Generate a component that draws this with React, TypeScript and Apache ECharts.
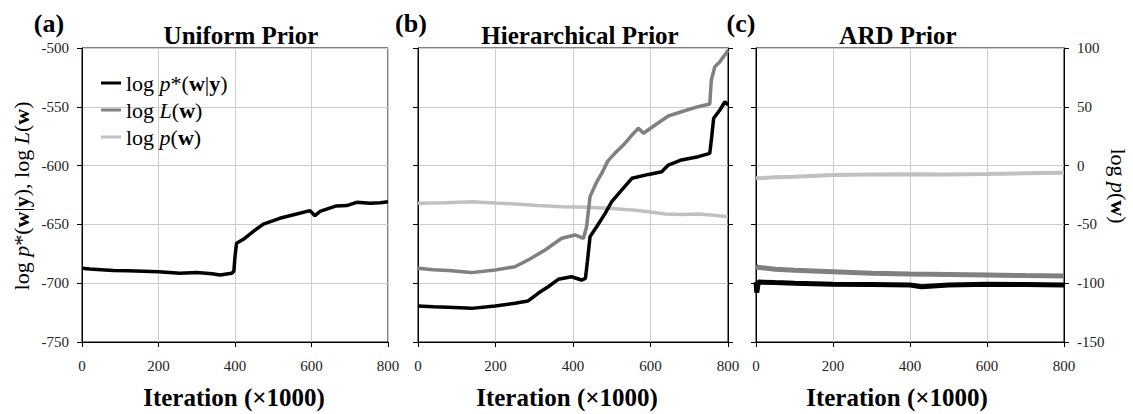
import React, { useEffect, useRef } from "react";
import * as echarts from "echarts";

const SERIF = "Liberation Serif";

// Panel titles and labels
const panelLetters = ["(a)", "(b)", "(c)"];
const panelTitles = ["Uniform Prior", "Hierarchical Prior", "ARD Prior"];
const xAxisTitle = "Iteration (×1000)";
const seriesNames = ["log p*(w|y)", "log L(w)", "log p(w)"];

// Axis ranges / ticks
const xTicks = [0, 200, 400, 600, 800];
const leftTicks = [-750, -700, -650, -600, -550, -500];
const rightTicks = [-150, -100, -50, 0, 50, 100];

// Panel (a): Uniform prior
const iterA = [0, 20, 50, 82, 120, 160, 200, 256, 300, 340, 361, 391, 397, 400, 404, 422, 448, 474, 517, 561, 596, 609, 622, 665, 692, 718, 753, 780, 800];
const postA = [-687.3, -688, -688.5, -689.3, -689.5, -689.8, -690.2, -691.6, -691, -692, -693, -691.6, -690, -677.4, -666, -662.7, -656, -649.7, -644.8, -641.2, -638.3, -642.6, -639, -634.3, -634, -631.2, -632, -631.5, -630.7];

// Panel (b): Hierarchical prior
const iterPostB = [0, 40, 78, 138, 199, 250, 284, 310, 336, 362, 396, 422, 432, 437, 444, 461, 483, 500, 526, 552, 595, 629, 646, 680, 723, 753, 757, 763, 779, 792, 800];
const postB = [-719.4, -720, -720.5, -721.4, -719.4, -717.1, -715.1, -708.6, -703, -696.7, -694.5, -697.3, -696, -682, -660.4, -652, -640.6, -630.7, -620.7, -610.8, -607.5, -605.2, -599.5, -595.2, -592.4, -589.6, -578.2, -559.8, -552.7, -545.7, -548.5];
const iterLikB = [0, 40, 78, 138, 199, 250, 284, 328, 371, 405, 427, 435, 444, 461, 475, 490, 508, 530, 552, 569, 582, 612, 646, 680, 723, 753, 757, 766, 779, 796, 800];
const likB = [-687.3, -688.5, -689.3, -691, -688.8, -686, -680.3, -671.8, -661.8, -659, -661.8, -652, -626.4, -614, -606, -596, -589.6, -582.5, -574, -568.3, -572.5, -565.5, -557.8, -554.2, -549.9, -547.6, -527.2, -515.9, -511.6, -504, -502];
const iterPriorB = [0, 70, 138, 200, 250, 310, 371, 440, 500, 560, 595, 638, 680, 724, 770, 800];
const priorB = [-32.1, -31.5, -30.7, -31.8, -32.6, -34, -34.9, -35.5, -36.5, -38, -39.2, -41.2, -41.5, -41.2, -42.5, -43.4];

// Panel (c): ARD prior
const iterPriorC = [0, 50, 100, 200, 300, 400, 500, 600, 700, 800];
const priorC = [-10.8, -10, -9.5, -8, -7.6, -7.4, -7.6, -7.1, -6.5, -6];
const iterLikC = [0, 5, 50, 100, 200, 300, 400, 500, 600, 700, 800];
const likC = [-685.5, -686.5, -688.2, -689, -690.2, -691.6, -692.2, -692.5, -693, -693.5, -693.9];
const iterPostC = [0, 2, 6, 50, 100, 200, 300, 400, 430, 500, 600, 700, 800];
const postC = [-699, -708, -699, -699.5, -700, -700.9, -701.2, -701.5, -703, -701.5, -700.9, -701.2, -701.5];

const COLORS = ["#000000", "#808080", "#c0c0c0"];

const pairs = (xs: number[], ys: number[]) => xs.map((x, i) => [x, ys[i]]);

const richStyles = (size: number) => ({
  r: { fontFamily: SERIF, fontSize: size, color: "#000", fill: "#000" },
  i: { fontFamily: SERIF, fontSize: size, fontStyle: "italic", color: "#000", fill: "#000" },
  b: { fontFamily: SERIF, fontSize: size, fontWeight: "bold", color: "#000", fill: "#000" },
});

const legendRich: Record<string, string> = {
  "log p*(w|y)": "{r|log }{i|p}{r|*(}{b|w}{r||}{b|y}{r|)}",
  "log L(w)": "{r|log }{i|L}{r|(}{b|w}{r|)}",
  "log p(w)": "{r|log }{i|p}{r|(}{b|w}{r|)}",
};

const gridBoxes = [
  { left: 82, width: 306 },
  { left: 418, width: 310 },
  { left: 756, width: 308 },
];
const titleX = [241, 580, 898];
const letterX = [49, 411, 741];
const xNameX = [234, 567, 897];

export default function App() {
  const ref = useRef<HTMLDivElement>(null);

  useEffect(() => {
    if (!ref.current) return;
    const chart = echarts.init(ref.current, null, { renderer: "svg" });

    const axisLabelStyle = { fontFamily: SERIF, fontSize: 15, color: "#222" };

    const xAxes = gridBoxes.map((_, i) => ({
      type: "value",
      gridIndex: i,
      min: xTicks[0],
      max: xTicks[xTicks.length - 1],
      interval: 200,
      axisLine: { show: true, onZero: false, lineStyle: { color: "#000", width: 1 } },
      axisTick: { show: true, inside: false, length: 5, lineStyle: { color: "#000" } },
      axisLabel: { ...axisLabelStyle, margin: 16, showMinLabel: true, showMaxLabel: true },
      splitLine: { show: true, lineStyle: { color: "#cccccc", width: 1 } },
    }));

    const leftAxis = (gi: number, labels: boolean) => ({
      type: "value",
      gridIndex: gi,
      position: "left",
      min: leftTicks[0],
      max: leftTicks[leftTicks.length - 1],
      interval: 50,
      axisLine: { show: true, onZero: false, lineStyle: { color: "#000", width: 1 } },
      axisTick: { show: true, inside: false, length: 5, lineStyle: { color: "#000" } },
      axisLabel: { show: labels, ...axisLabelStyle, margin: 13 },
      splitLine: { show: true, lineStyle: { color: "#cccccc", width: 1 } },
    });
    const rightAxis = (gi: number, labels: boolean) => ({
      type: "value",
      gridIndex: gi,
      position: "right",
      min: rightTicks[0],
      max: rightTicks[rightTicks.length - 1],
      interval: 50,
      axisLine: { show: true, onZero: false, lineStyle: { color: "#000", width: 1 } },
      axisTick: { show: true, inside: false, length: 5, lineStyle: { color: "#000" } },
      axisLabel: { show: labels, ...axisLabelStyle, margin: 13 },
      splitLine: { show: false },
    });

    const line = (name: string, color: string, xi: number, yi: number, data: number[][], z: number, w: number) => ({
      type: "line",
      name,
      xAxisIndex: xi,
      yAxisIndex: yi,
      data,
      showSymbol: false,
      symbol: "none",
      z,
      lineStyle: { color, width: w },
      itemStyle: { color },
    });

    const textEl = (text: string, x: number, y: number, size: number, bold: boolean) => ({
      type: "text",
      x,
      y,
      style: {
        text,
        fontFamily: SERIF,
        fontSize: size,
        fontWeight: bold ? "bold" : "normal",
        fill: "#000",
        align: "center",
        verticalAlign: "middle",
        textAlign: "center",
        textVerticalAlign: "middle",
      },
    });

    const graphic: any[] = [];
    panelLetters.forEach((t, i) => graphic.push(textEl(t, letterX[i], 23, 26, true)));
    panelTitles.forEach((t, i) => graphic.push(textEl(t, titleX[i], 35, 25, true)));
    xNameX.forEach((x) => graphic.push(textEl(xAxisTitle, x, 397, 25, true)));
    graphic.push({
      type: "text",
      x: 21,
      y: 196,
      rotation: Math.PI / 2,
      style: {
        text: "{r|log }{i|p}{r|*(}{b|w}{r||}{b|y}{r|), log }{i|L}{r|(}{b|w}{r|)}",
        rich: richStyles(22),
        align: "center",
        verticalAlign: "middle",
        textAlign: "center",
        textVerticalAlign: "middle",
      },
    });
    graphic.push({
      type: "text",
      x: 1118,
      y: 186,
      rotation: -Math.PI / 2,
      style: {
        text: "{r|log }{i|p}{r|(}{b|w}{r|)}",
        rich: richStyles(22),
        align: "center",
        verticalAlign: "middle",
        textAlign: "center",
        textVerticalAlign: "middle",
      },
    });

    chart.setOption({
      animation: false,
      backgroundColor: "#ffffff",
      textStyle: { fontFamily: SERIF },
      grid: gridBoxes.map((g) => ({
        left: g.left,
        top: 48,
        width: g.width,
        height: 294,
        show: true,
        borderColor: "#000",
        borderWidth: 1,
        backgroundColor: "transparent",
      })),
      xAxis: xAxes,
      yAxis: [leftAxis(0, true), leftAxis(1, false), rightAxis(1, false), leftAxis(2, false), rightAxis(2, true)],
      legend: {
        data: seriesNames,
        orient: "vertical",
        left: 96,
        top: 67,
        itemWidth: 20,
        itemHeight: 3,
        itemGap: 5,
        icon: "rect",
        formatter: (name: string) => legendRich[name] || name,
        textStyle: { fontFamily: SERIF, fontSize: 22, color: "#000", lineHeight: 22, rich: richStyles(22) },
      },
      series: [
        line(seriesNames[0], COLORS[0], 0, 0, pairs(iterA, postA), 5, 3.5),
        line(seriesNames[2], COLORS[2], 1, 2, pairs(iterPriorB, priorB), 3, 3.5),
        line(seriesNames[1], COLORS[1], 1, 1, pairs(iterLikB, likB), 4, 3.5),
        line(seriesNames[0], COLORS[0], 1, 1, pairs(iterPostB, postB), 5, 3.5),
        line(seriesNames[2], COLORS[2], 2, 4, pairs(iterPriorC, priorC), 3, 4),
        line(seriesNames[1], COLORS[1], 2, 3, pairs(iterLikC, likC), 4, 5),
        line(seriesNames[0], COLORS[0], 2, 3, pairs(iterPostC, postC), 5, 5),
      ],
      graphic,
    });

    return () => chart.dispose();
  }, []);

  return (
    <div
      ref={ref}
      style={{ position: "fixed", left: 0, top: 0, width: 1133, height: 414, background: "#fff" }}
    />
  );
}
